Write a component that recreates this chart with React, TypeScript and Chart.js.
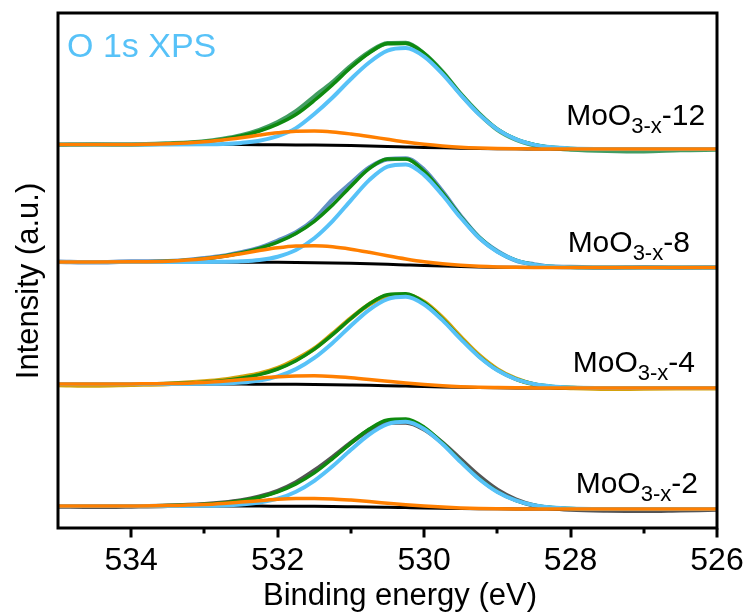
import React, { useEffect, useRef } from "react";
import { Chart, registerables } from "chart.js";

Chart.register(...registerables);

// Binding energy grid (eV), high to low
const energies = [535, 534.5, 534, 533.5, 533, 532.75, 532.5, 532.25, 532, 531.75, 531.5, 531.25, 531, 530.75, 530.5, 530.25, 530, 529.75, 529.5, 529.25, 529, 528.75, 528.5, 528.25, 528, 527.5, 527, 526.5, 526];

const majorTicks = [534, 532, 530, 528, 526];
const minorTicks = [533, 531, 529, 527];

// Sample names and vertical stacking offsets (a.u.)
const samples = ["12", "8", "4", "2"];
const offsets = [383.5, 266, 144, 22];

// MoO3-x-12
const raw12 = [-0.3, 0.2, -0.1, 1.0, 3.1, 5.6, 9.1, 14.4, 22.2, 33.2, 47.8, 62.4, 78.6, 92.3, 101.2, 101.5, 90.7, 72.8, 50.4, 30.9, 14.9, 5.1, -0.6, -3.6, -4.9, -6.2, -6.7, -5.5, -5.0];
const env12 = [0, 0, 0.1, 0.7, 2.9, 5.1, 8.5, 13.4, 20.4, 30.0, 44.0, 59.8, 77.0, 91.5, 100.9, 101.3, 91.1, 72.5, 50.7, 30.7, 15.4, 5.5, 0, -2.8, -3.9, -4.45, -4.5, -4.5, -4.5];
const lattice12 = [0, 0, 0, 0, 0.2, 0.5, 1.6, 3.8, 8.4, 16.4, 30.5, 47, 65.5, 82.0, 93.8, 96.4, 87.9, 70.6, 49.6, 30.1, 15.2, 5.4, -0.1, -2.8, -3.9, -4.45, -4.5, -4.5, -4.5];
const vacancy12 = [0, 0, 0.1, 0.7, 2.7, 4.5, 6.8, 9.4, 11.7, 13.2, 13.4, 12.5, 10.5, 8.0, 5.2, 2.5, 0.3, -1.4, -2.7, -3.5, -4.0, -4.3, -4.4, -4.5, -4.5, -4.5, -4.5, -4.5, -4.5];
const bg12 = [0, 0, 0, 0, -0.05, -0.08, -0.12, -0.18, -0.26, -0.38, -0.54, -0.77, -1.08, -1.44, -1.89, -2.39, -2.88, -3.33, -3.74, -4.05, -4.25, -4.37, -4.44, -4.48, -4.49, -4.5, -4.5, -4.5, -4.5];

// MoO3-x-8
const raw8 = [0.2, -0.3, 0.45, 0.65, 3.7, 6.0, 9.6, 14.1, 21.3, 29.5, 42.7, 62.5, 78.8, 94.3, 102.7, 103.5, 92.2, 70.5, 45.9, 24.6, 10.8, 1.5, -2.4, -4.8, -5.0, -5.8, -5.3, -5.7, -5.5];
const env8 = [0, 0, 0.15, 0.85, 3.3, 5.7, 9.0, 13.6, 19.8, 28.5, 40.7, 57.0, 75.8, 93.3, 103.0, 103.0, 90.7, 69.3, 45.5, 25.0, 10.5, 1.8, -2.6, -4.5, -5.2, -5.5, -5.5, -5.5, -5.5];
const lattice8 = [0, 0, 0, 0, 0, 0.15, 0.65, 2.0, 5.3, 12.0, 23.8, 40.9, 61.7, 81.9, 95.4, 97.6, 86.9, 67.0, 44.2, 24.3, 10.2, 1.7, -2.6, -4.5, -5.2, -5.5, -5.5, -5.5, -5.5];
const vacancy8 = [0, 0, 0.15, 0.85, 3.2, 5.4, 8.3, 11.4, 14.2, 16.0, 16.3, 15.2, 12.8, 9.7, 6.3, 3.1, 0.3, -1.8, -3.3, -4.3, -4.9, -5.2, -5.4, -5.5, -5.5, -5.5, -5.5, -5.5, -5.5];
const bg8 = [0, 0, -0.01, -0.02, -0.055, -0.09, -0.14, -0.22, -0.32, -0.47, -0.66, -0.94, -1.32, -1.76, -2.31, -2.92, -3.52, -4.07, -4.57, -4.95, -5.2, -5.35, -5.43, -5.47, -5.49, -5.5, -5.5, -5.5, -5.5];

// MoO3-x-4
const raw4 = [-1.0, -1.5, -0.7, 0.1, 2.4, 4.2, 7.1, 10.4, 15.8, 24.5, 35.3, 50.2, 65.8, 79.6, 88.3, 89.0, 82.0, 66.3, 47.0, 28.8, 14.7, 5.3, -0.4, -3.2, -4.0, -4.85, -4.5, -4.3, -4.2];
const env4 = [0, 0, 0.1, 0.4, 1.8, 3.3, 5.7, 9.4, 15.0, 23.3, 34.8, 49.4, 65.5, 80.0, 89.3, 90.2, 81.5, 65.1, 45.5, 27.6, 13.9, 5.0, 0, -2.4, -3.4, -3.95, -4, -4, -4];
const lattice4 = [0, 0, 0, 0, 0.15, 0.5, 1.4, 3.5, 7.6, 14.9, 26.1, 41.1, 58.3, 74.2, 84.9, 87.2, 79.5, 63.9, 44.9, 27.3, 13.7, 4.9, 0, -2.4, -3.4, -3.95, -4, -4, -4];
const vacancy4 = [0, 0, 0.1, 0.4, 1.6, 2.8, 4.2, 5.8, 7.2, 8.1, 8.2, 7.6, 6.3, 4.6, 2.7, 0.9, -0.6, -1.8, -2.7, -3.3, -3.6, -3.8, -3.9, -4.0, -4, -4, -4, -4, -4];
const bg4 = [0, 0, 0, -0.01, -0.04, -0.07, -0.1, -0.16, -0.23, -0.34, -0.48, -0.68, -0.96, -1.28, -1.68, -2.12, -2.56, -2.96, -3.32, -3.6, -3.78, -3.89, -3.95, -3.98, -3.99, -4, -4, -4, -4];

// MoO3-x-2
const raw2 = [-0.4, -0.8, -0.43, 0.2, 1.8, 3.3, 5.6, 9.4, 15.0, 23.6, 35.3, 48.8, 63.3, 75.9, 83.5, 83.5, 76.8, 63.3, 46.5, 29.9, 16.0, 6.4, 0.5, -2.3, -3.5, -4.45, -4.8, -4.2, -3.6];
const env2 = [0, 0, 0.07, 0.4, 1.7, 3.1, 5.3, 8.8, 14.2, 22.1, 33.1, 47.3, 62.8, 76.9, 86.0, 87.0, 78.8, 63.1, 44.5, 27.3, 14.2, 5.6, 0.8, -1.5, -2.5, -2.95, -3, -3, -3];
const lattice2 = [0, 0, 0, 0, 0.15, 0.5, 1.4, 3.4, 7.3, 14.3, 25.2, 39.7, 56.2, 71.5, 81.9, 84.2, 77.0, 62.0, 43.9, 27.0, 14.0, 5.6, 0.8, -1.5, -2.5, -2.95, -3, -3, -3];
const vacancy2 = [0, 0, 0.07, 0.4, 1.5, 2.55, 3.9, 5.3, 6.7, 7.5, 7.6, 7.1, 5.9, 4.4, 2.8, 1.2, -0.1, -1.1, -1.9, -2.4, -2.7, -2.9, -3.0, -3, -3, -3, -3, -3, -3];
const bg2 = [0, 0, 0, 0, -0.03, -0.05, -0.08, -0.12, -0.17, -0.26, -0.36, -0.51, -0.72, -0.96, -1.26, -1.59, -1.92, -2.22, -2.49, -2.7, -2.84, -2.92, -2.96, -2.99, -3, -3, -3, -3, -3];

const rawSeries = [raw12, raw8, raw4, raw2];
const envSeries = [env12, env8, env4, env2];
const latticeSeries = [lattice12, lattice8, lattice4, lattice2];
const vacancySeries = [vacancy12, vacancy8, vacancy4, vacancy2];
const bgSeries = [bg12, bg8, bg4, bg2];

const rawColors = ["rgba(34,140,72,0.85)", "#6190C4", "#D4A20C", "#555555"];
const envColor = "#0E8A0E";
const latticeColor = "#57C2F8";
const vacancyColor = "#FF7F00";

// Sample label anchors (left edge in eV, baseline in a.u.)
const labelX = [528.06, 528.04, 527.97, 527.93];
const labelY = [403, 276, 156, 35];

const FONT = "'Liberation Sans', Arial, Helvetica, sans-serif";

const toPoints = (arr: number[], off: number) =>
  energies.map((x, i) => ({ x, y: arr[i] + off }));

const decorPlugin = {
  id: "decor",
  afterDatasetsDraw(chart: any) {
    const { ctx, chartArea } = chart;
    const xs = chart.scales.x;
    const ys = chart.scales.y;
    ctx.save();
    // frame
    ctx.strokeStyle = "#000";
    ctx.lineWidth = 3;
    ctx.strokeRect(chartArea.left, chartArea.top, chartArea.right - chartArea.left, chartArea.bottom - chartArea.top);
    // tick marks
    ctx.lineWidth = 3;
    const b = chartArea.bottom + 1.5;
    majorTicks.forEach((v) => {
      const px = Math.round(xs.getPixelForValue(v));
      ctx.beginPath();
      ctx.moveTo(px, b - 1);
      ctx.lineTo(px, b + 8);
      ctx.stroke();
    });
    minorTicks.forEach((v) => {
      const px = Math.round(xs.getPixelForValue(v));
      ctx.beginPath();
      ctx.moveTo(px, b - 1);
      ctx.lineTo(px, b + 4);
      ctx.stroke();
    });

    // sample labels
    ctx.fillStyle = "#000";
    ctx.textBaseline = "alphabetic";
    ctx.textAlign = "left";
    samples.forEach((s, i) => {
      let px = xs.getPixelForValue(labelX[i]);
      const py = ys.getPixelForValue(labelY[i]);
      ctx.font = `30px ${FONT}`;
      ctx.fillText("MoO", px, py);
      px += ctx.measureText("MoO").width;
      ctx.font = `22px ${FONT}`;
      ctx.fillText("3-x", px, py + 8);
      px += ctx.measureText("3-x").width;
      ctx.font = `30px ${FONT}`;
      ctx.fillText("-" + s, px, py);
    });

    // panel label
    ctx.fillStyle = latticeColor;
    ctx.font = `34px ${FONT}`;
    ctx.fillText("O 1s XPS", chartArea.left + 9, chartArea.top + 44);

    // axis titles
    ctx.fillStyle = "#000";
    ctx.font = `31px ${FONT}`;
    ctx.textAlign = "center";
    ctx.fillText("Binding energy (eV)", 400, 605);
    ctx.save();
    ctx.translate(29, 281);
    ctx.rotate(-Math.PI / 2);
    ctx.font = `31px ${FONT}`;
    ctx.textBaseline = "middle";
    ctx.fillText("Intensity (a.u.)", 0, 0);
    ctx.restore();
    ctx.restore();
  },
};

export default function App() {
  const ref = useRef<HTMLCanvasElement | null>(null);

  useEffect(() => {
    if (!ref.current) return;
    const datasets: any[] = [];
    samples.forEach((s, i) => {
      const off = offsets[i];
      const common = {
        pointRadius: 0,
        fill: false,
        cubicInterpolationMode: "monotone",
      };
      datasets.push({ ...common, label: `raw-${s}`, data: toPoints(rawSeries[i], off), borderColor: rawColors[i], borderWidth: 4.5, order: 50 + i });
      datasets.push({ ...common, label: `bg-${s}`, data: toPoints(bgSeries[i], off), borderColor: "#000", borderWidth: 3, order: 40 + i });
      datasets.push({ ...common, label: `env-${s}`, data: toPoints(envSeries[i], off), borderColor: envColor, borderWidth: 3.5, order: 30 + i });
      datasets.push({ ...common, label: `lattice-${s}`, data: toPoints(latticeSeries[i], off), borderColor: latticeColor, borderWidth: 4, order: 20 + i });
      datasets.push({ ...common, label: `vac-${s}`, data: toPoints(vacancySeries[i], off), borderColor: vacancyColor, borderWidth: 3.5, order: 10 + i });
    });

    const chart = new Chart(ref.current, {
      type: "line",
      data: { datasets },
      options: {
        animation: false,
        responsive: false,
        events: [],
        layout: { padding: { left: 58, right: 30, top: 13, bottom: 0 } },
        plugins: { legend: { display: false }, tooltip: { enabled: false } },
        scales: {
          x: {
            type: "linear",
            min: 526,
            max: 535,
            reverse: true,
            afterBuildTicks: (scale: any) => {
              scale.ticks = majorTicks.map((v) => ({ value: v }));
            },
            afterFit: (scale: any) => {
              scale.height = 87;
              scale.paddingLeft = 0;
              scale.paddingRight = 0;
            },
            grid: { display: false },
            border: { display: false },
            ticks: {
              color: "#000",
              font: { family: FONT, size: 32 },
              padding: 6,
              maxRotation: 0,
              autoSkip: false,
            },
          },
          y: { type: "linear", display: false, min: 0, max: 515 },
        },
      },
      plugins: [decorPlugin],
    });
    return () => chart.destroy();
  }, []);

  return (
    <div style={{ position: "fixed", left: 0, top: 0, width: 747, height: 615, background: "#fff" }}>
      <canvas ref={ref} width={747} height={615} />
    </div>
  );
}
